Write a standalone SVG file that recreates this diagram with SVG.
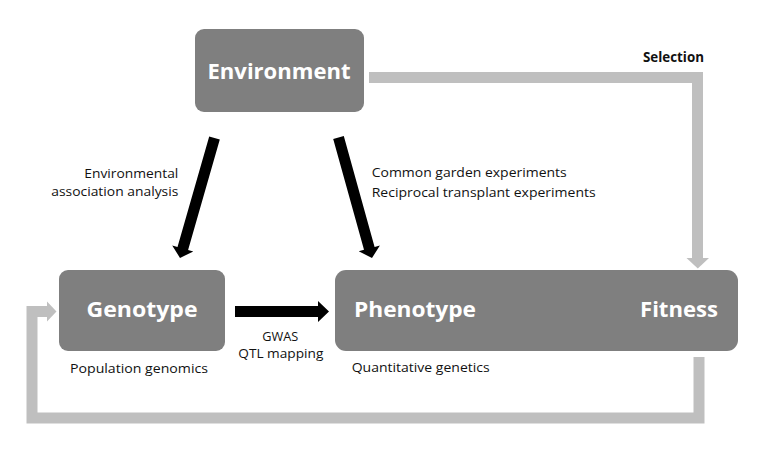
<svg xmlns="http://www.w3.org/2000/svg" width="762" height="449" viewBox="0 0 762 449">
<style>
.box{fill:#7f7f7f}
.big{font-family:"Open Sans","Noto Sans",sans-serif;font-weight:bold;font-size:22px;fill:#ffffff}
.lbl{font-family:"Open Sans","Noto Sans",sans-serif;font-size:13.5px;fill:#111111}
.lblb{font-family:"Open Sans","Noto Sans",sans-serif;font-size:13.5px;font-weight:bold;fill:#111111}
.gl{fill:none;stroke:#bfbfbf;stroke-width:11;stroke-linejoin:miter}
.gh{fill:#bfbfbf}
.bk{fill:#000000}
</style>
<rect width="762" height="449" fill="#ffffff"/>
<g id="connectors">
  <polyline class="gl" points="369,77.5 697.5,77.5 697.5,259"/>
  <polygon class="gh" points="686.5,258 709,258 697.8,268.5"/>
  <polyline class="gl" points="699,357 699,418 32,418 32,311.5 48,311.5"/>
  <polygon class="gh" points="47,301.5 47,321.5 56.5,311.5"/>
  <polygon class="bk" points="235,306 318,306 318,301 329,311.5 318,322 318,317 235,317"/>
  <polygon class="bk" points="209.2,136.5 219.8,139.5 188.1,249.9 193.3,251.4 180,258 172.2,245.4 177.5,246.9"/>
  <polygon class="bk" points="333.2,139 343.8,136 374.6,246.9 379.9,245.4 372,258 358.7,251.3 364,249.8"/>
</g>
<g id="environment">
  <rect class="box" x="195" y="29" width="169" height="83" rx="9"/>
  <text class="big" x="279" y="79" text-anchor="middle" textLength="143" lengthAdjust="spacingAndGlyphs">Environment</text>
</g>
<g id="genotype">
  <rect class="box" x="59" y="270" width="166" height="81" rx="9"/>
  <text class="big" x="142" y="317" text-anchor="middle" textLength="111" lengthAdjust="spacingAndGlyphs">Genotype</text>
</g>
<g id="phenotype-fitness">
  <rect class="box" x="335" y="270" width="403" height="81" rx="11"/>
  <text class="big" x="354" y="317" textLength="122" lengthAdjust="spacingAndGlyphs">Phenotype</text>
  <text class="big" x="718" y="317" text-anchor="end" textLength="78" lengthAdjust="spacingAndGlyphs">Fitness</text>
</g>
<g id="labels">
  <text class="lblb" x="704" y="61.7" text-anchor="end" textLength="61" lengthAdjust="spacingAndGlyphs">Selection</text>
  <text class="lbl" x="178.3" y="177.7" text-anchor="end" textLength="94" lengthAdjust="spacingAndGlyphs">Environmental</text>
  <text class="lbl" x="178.3" y="195.7" text-anchor="end" textLength="127" lengthAdjust="spacingAndGlyphs">association analysis</text>
  <text class="lbl" x="371.7" y="177.3" textLength="195" lengthAdjust="spacingAndGlyphs">Common garden experiments</text>
  <text class="lbl" x="371.7" y="196.7" textLength="224" lengthAdjust="spacingAndGlyphs">Reciprocal transplant experiments</text>
  <text class="lbl" x="280.3" y="341" text-anchor="middle" textLength="36" lengthAdjust="spacingAndGlyphs">GWAS</text>
  <text class="lbl" x="280.8" y="357.5" text-anchor="middle" textLength="85" lengthAdjust="spacingAndGlyphs">QTL mapping</text>
  <text class="lbl" x="70" y="373.3" textLength="138" lengthAdjust="spacingAndGlyphs">Population genomics</text>
  <text class="lbl" x="351.7" y="371.7" textLength="138" lengthAdjust="spacingAndGlyphs">Quantitative genetics</text>
</g>
</svg>
